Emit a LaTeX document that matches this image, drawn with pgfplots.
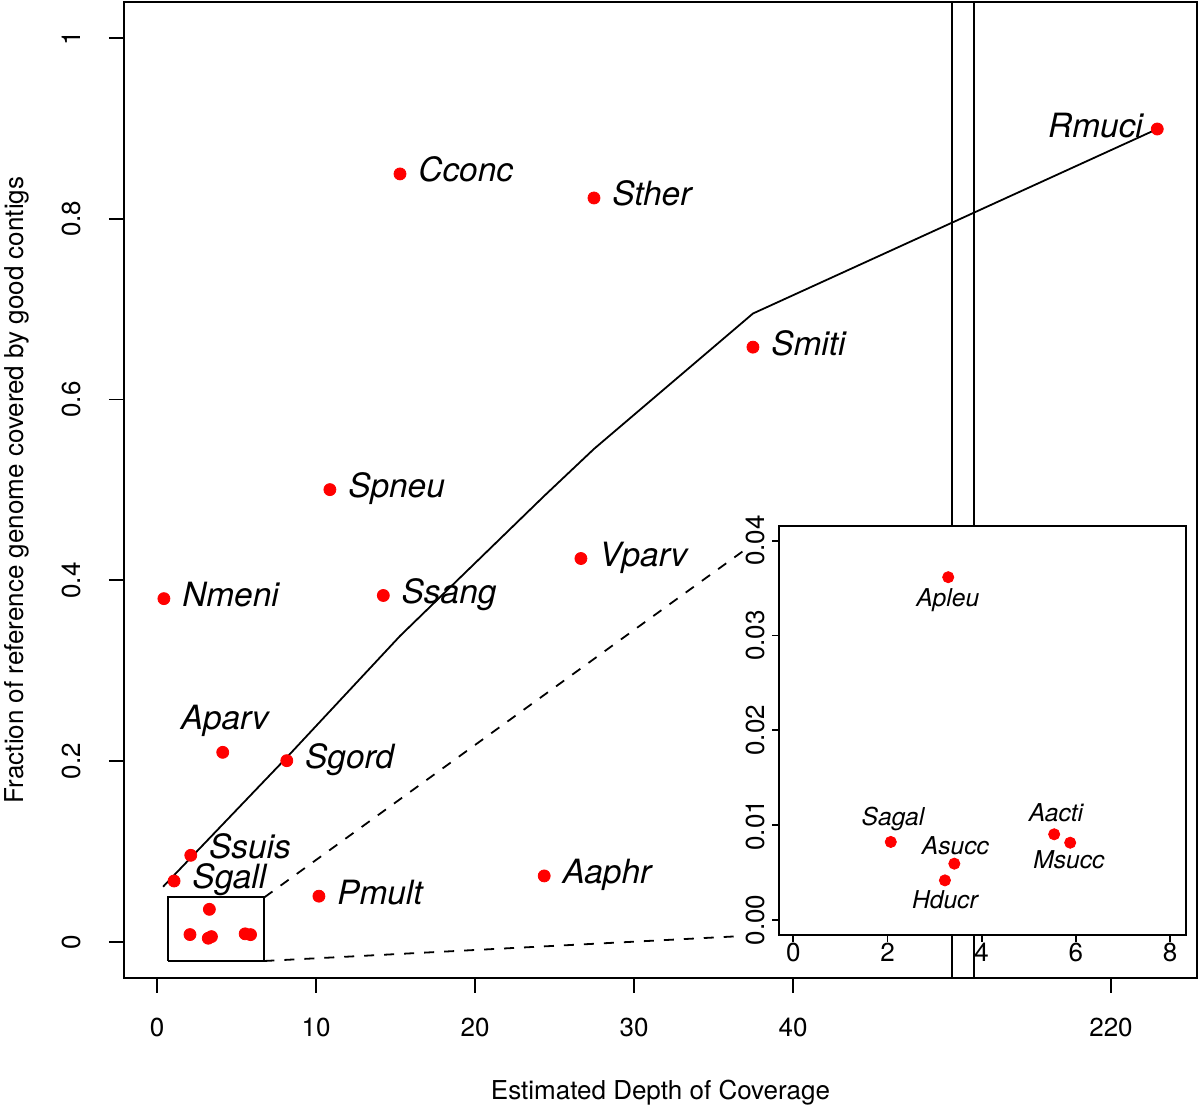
\documentclass[border=0pt]{standalone}
\usepackage{fontspec}
\setmainfont{TeX Gyre Heros}
\usepackage{pgfplots}
\pgfplotsset{compat=1.18}
\usepackage{pgfplotstable}

\definecolor{rred}{RGB}{255,0,0}
\newcommand{\labfont}{\itshape\fontsize{16.7}{19}\selectfont}
\newcommand{\inlabfont}{\itshape\fontsize{12.3}{14}\selectfont}
\newcommand{\tkfont}{\fontsize{13}{15}\selectfont}

% points labelled to the right
\pgfplotstableread{
x y label
15.28 0.8496 Cconc
27.48 0.8230 Sther
37.48 0.6580 Smiti
10.87 0.5004 Spneu
26.66 0.4242 Vparv
0.43 0.3798 Nmeni
14.23 0.3833 Ssang
8.16 0.2006 Sgord
1.07 0.0675 Sgall
10.18 0.0507 Pmult
24.35 0.0731 Aaphr
}\rightpts
\pgfplotstableread{
x y label
2.12 0.0959 Ssuis
}\ssuispt
\pgfplotstableread{
x y label
4.13 0.2098 Aparv
}\abovepts
\pgfplotstableread{
x y label
222.91 0.8993 Rmuci
}\leftpts
% small-depth points (shown in inset)
\pgfplotstableread{
x y label
3.29 0.03615 Apleu
2.07 0.00823 Sagal
3.42 0.00594 Asucc
3.22 0.00418 Hducr
5.54 0.00904 Aacti
5.88 0.00815 Msucc
}\smallpts
% fitted curve
\pgfplotstableread{
x y
0.38 0.0612
8.18 0.2046
15.28 0.3385
24.35 0.4934
27.48 0.5454
37.48 0.6952
222.91 0.8993
}\curve

\begin{document}
\begin{tikzpicture}
\useasboundingbox (0,0) rectangle (600pt,556pt);
\begin{axis}[
  at={(62pt,67pt)}, anchor=south west,
  scale only axis, width=536.5pt, height=488pt,
  xmin=-2.08, xmax=65.41, ymin=-0.0398, ymax=1.0398,
  x filter/.expression={x>100 ? x-160 : x},
  xtick={0,10,20,30,40,60}, xticklabels={0,10,20,30,40,220},
  ytick={0,0.2,0.4,0.6,0.8,1}, yticklabels={0,0.2,0.4,0.6,0.8,1},
  xtick pos=bottom, ytick pos=left,
  tick align=outside, major tick length=7.5pt,
  tick style={black, line width=0.9pt},
  axis line style={line width=0.9pt},
  ticklabel style={font=\tkfont},
  xticklabel style={anchor=north, inner sep=0pt},
  yticklabel style={rotate=90, anchor=south, inner sep=0pt},
  xticklabel shift=12.5pt, yticklabel shift=14pt,
  xlabel={Estimated Depth of Coverage},
  ylabel={Fraction of reference genome covered by good contigs},
  xlabel style={at={(axis description cs:0.5,-0.1243)}, anchor=base, font=\tkfont, inner sep=0pt},
  ylabel style={at={(axis description cs:-0.0936,0.5)}, anchor=base, font=\tkfont, inner sep=0pt},
  clip=false,
]
% gap lines of the broken axis
\addplot[black, line width=0.9pt] coordinates {(50.02,-0.0398) (50.02,1.0398)};
\addplot[black, line width=0.9pt] coordinates {(51.38,-0.0398) (51.38,1.0398)};
% fitted curve
\addplot[black, line width=0.9pt] table[x=x,y=y] {\curve};
% zoom box and connecting dashed lines
\addplot[black, line width=0.9pt] coordinates {(0.711,-0.0210) (6.748,-0.0210) (6.748,0.0494) (0.711,0.0494) (0.711,-0.0210)};
\addplot[black, line width=0.9pt, dash pattern=on 5pt off 5pt] coordinates {(6.748,0.0494) (37.04,0.4347)};
\addplot[black, line width=0.9pt, dash pattern=on 5pt off 5pt] coordinates {(6.748,-0.0210) (36.79,0.0066)};
% points
\addplot[only marks, mark=*, mark size=3pt, color=rred, point meta=explicit symbolic,
  nodes near coords,
  every node near coord/.append style={black, anchor=base west, inner sep=0pt, xshift=9pt, yshift=-4pt, font=\labfont}]
  table[x=x,y=y,meta=label] {\rightpts};
\addplot[only marks, mark=*, mark size=3pt, color=rred, point meta=explicit symbolic,
  nodes near coords,
  every node near coord/.append style={black, anchor=base west, inner sep=0pt, xshift=9pt, yshift=-1.5pt, font=\labfont}]
  table[x=x,y=y,meta=label] {\ssuispt};
\addplot[only marks, mark=*, mark size=3pt, color=rred, point meta=explicit symbolic,
  nodes near coords,
  every node near coord/.append style={black, anchor=base, inner sep=0pt, xshift=1pt, yshift=11.5pt, font=\labfont}]
  table[x=x,y=y,meta=label] {\abovepts};
\addplot[only marks, mark=*, mark size=3pt, color=rred, point meta=explicit symbolic,
  nodes near coords,
  every node near coord/.append style={black, anchor=base east, inner sep=0pt, xshift=-7pt, yshift=-4pt, font=\labfont}]
  table[x=x,y=y,meta=label] {\leftpts};
\addplot[only marks, mark=*, mark size=3pt, color=rred] table[x=x,y=y] {\smallpts};
\end{axis}

\begin{axis}[
  at={(389.65pt,88.5pt)}, anchor=south west,
  scale only axis, width=203.35pt, height=204.5pt,
  xmin=-0.297, xmax=8.339, ymin=-0.00158, ymax=0.04155,
  axis background/.style={fill=white},
  xtick={0,2,4,6,8}, xticklabels={0,2,4,6,8},
  ytick={0,0.01,0.02,0.03,0.04},
  yticklabels={0.00,0.01,0.02,0.03,0.04},
  scaled ticks=false,
  xtick pos=bottom, ytick pos=left,
  tick align=outside, major tick length=3.5pt,
  tick style={black, line width=0.9pt},
  axis line style={line width=0.9pt},
  ticklabel style={font=\tkfont},
  xticklabel style={anchor=north, inner sep=0pt},
  yticklabel style={rotate=90, anchor=south, inner sep=0pt},
  xticklabel shift=0.5pt, yticklabel shift=3.5pt,
  clip=false,
]
\addplot[only marks, mark=*, mark size=2.8pt, color=rred] table[x=x,y=y] {\smallpts};
\node[anchor=base, font=\inlabfont, inner sep=0pt] at (axis cs:3.28,0.03305) {Apleu};
\node[anchor=base, font=\inlabfont, inner sep=0pt] at (axis cs:2.117,0.00995) {Sagal};
\node[anchor=base, font=\inlabfont, inner sep=0pt] at (axis cs:3.444,0.00693) {Asucc};
\node[anchor=base, font=\inlabfont, inner sep=0pt] at (axis cs:3.22,0.00123) {Hducr};
\node[anchor=base, font=\inlabfont, inner sep=0pt] at (axis cs:5.578,0.01037) {Aacti};
\node[anchor=base, font=\inlabfont, inner sep=0pt] at (axis cs:5.853,0.00545) {Msucc};
\end{axis}
\end{tikzpicture}
\end{document}
